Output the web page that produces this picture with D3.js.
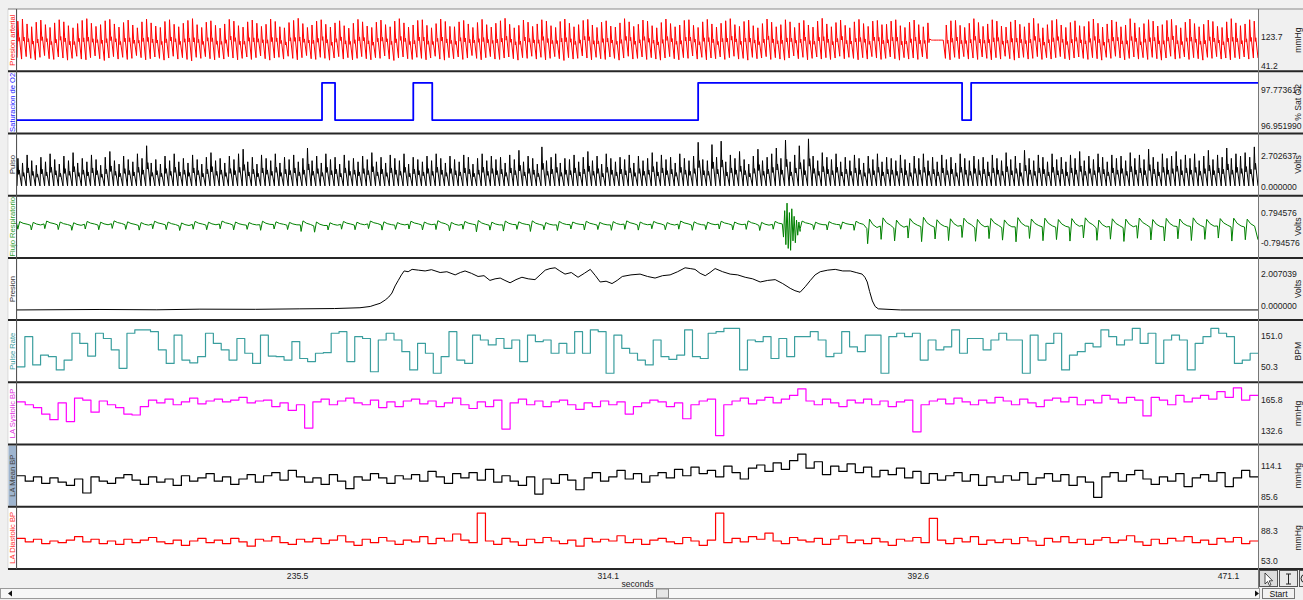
<!DOCTYPE html>
<html>
<head>
<meta charset="utf-8">
<script src="https://cdn.jsdelivr.net/npm/d3@7"></script>
<style>
  html, body { margin: 0; padding: 0; background: #f0f0f0; }
  svg { display: block; font-family: "Liberation Sans", Arial, sans-serif; }
</style>
</head>
<body>
<div id="chart"></div>
<script>
// ---- time axis ----
const timeStart = 164.6, timeEnd = 478.7;
const timeTicks = [235.5, 314.1, 392.6, 471.1];

// ---- channels ----
const channelNames = ["Presion arterial", "Saturacion de O2", "Pulso", "Flujo Respiratorio", "Presion", "Pulse Rate", "LA Systolic BP", "LA Mean BP", "LA Diastolic BP"];
const channelUnits = ["mmHg", "% Sat O2", "Volts", "Volts", "Volts", "BPM", "mmHg", "mmHg", "mmHg"];
const scaleHigh = [123.7, 97.773617, 2.702637, 0.794576, 2.007039, 151.0, 165.8, 114.1, 88.3];
const scaleLow = [41.2, 96.951990, 0.000000, -0.794576, 0.000000, 50.3, 132.6, 85.6, 53.0];
const scaleDecimals = [1, 6, 6, 6, 6, 1, 1, 1, 1];

// arterial pressure, one value per beat (mmHg)
const apSystolic = [
  168,174,160,152,165,171,158,150,163,172,166,155,149,161,170,
  175,162,153,158,169,173,160,151,164,171,157,149,166,174,163,
  154,150,167,172,159,152,162,170,175,158,150,165,169,156,148,
  160,173,168,155,151,166,171,162,153,159,174,167,152,149,164,
  170,176,161,150,157,168,172,159,151,163,169,155,148,162,173,
  166,154,150,165,171,158,152,168,175,163,151,157,170,172,156,
  149,161,174,167,153,152,166,170,160,150,164,173,158,151,162,
  169,176,159,149,156,171,165,153,160,172,168,155,150,167,174,
  162,152,158,170,173,157,150,165,169,154,151,163,175,166,153,
  159,171,168,155,149,164,174,161,152,157,170,172,156,150,166,
  173,160,151,162,169,175,158,153,167,171,155,149,161,174,165,
  152,158,172,166,150,163,170,157,151,168,176,160,152,164,171,
  156,149,166,173,161,153,168,170,158,159,168,172,155,150,165,
  171,158,152,163,114,114,114,157,169,170,156,150,162,175,164,
  153,160,172,168,154,151,166,171,159,152,163,176,161,149,158,
  170,173,157,150,164,169,155,153,167,174,162,151,160,171,166,
  152,157,175,163,150,161,172,168,154,158,170,173,156,149,165,
  174,161,152,159,171,167,153,150,166,175,163,155,160,172,168
];
const apDiastolic = [
  64,60,67,62,58,65,70,61,59,66,63,57,62,68,60,
  58,64,69,61,56,63,67,60,65,59,62,70,64,58,61,
  66,62,57,63,68,60,64,59,55,65,62,67,61,58,64,
  60,67,63,58,62,66,59,64,69,61,57,63,65,60,68,
  62,58,64,70,61,59,65,62,57,63,67,60,64,58,62,
  67,61,58,64,62,69,60,56,63,66,61,59,65,62,58,
  63,68,60,57,64,61,66,59,63,70,62,58,64,67,60,
  59,63,66,61,57,64,62,68,60,65,58,62,67,61,56,
  64,60,62,69,63,58,65,61,59,66,62,57,63,68,60,
  62,66,59,64,60,57,63,67,61,58,64,62,69,60,65,
  58,63,61,66,59,64,68,60,62,57,65,61,63,67,59,
  64,60,57,63,69,61,65,58,62,66,60,64,59,63,68,
  61,65,62,58,64,60,67,63,59,62,66,61,57,64,60,
  63,59,66,61,114,114,114,62,58,65,61,67,60,63,59,
  66,62,58,64,60,68,61,57,63,65,60,62,67,59,64,
  60,64,67,61,58,63,66,62,59,64,61,57,65,62,68,
  63,58,62,66,60,64,59,65,61,57,63,68,60,62,66,
  59,64,61,57,65,62,67,60,63,58,64,61,66,60,63
];

// SpO2 level changes [seconds, %]
const satSteps = [[164.6, 97.08], [241.8, 97.92], [245.1, 97.08], [264.9, 97.92], [269.7, 97.08], [337.0, 97.92], [403.8, 97.08], [406.1, 97.92]];

// pulse pleth, one peak per beat (V)
const pulsePeaks = [
  2.5,2.1,2.8,2.3,1.9,2.6,2.2,2.9,2.4,2.0,2.7,2.3,3.0,2.1,2.5,
  2.2,2.8,2.4,1.9,2.6,3.1,2.3,2.0,2.7,2.4,2.2,2.9,2.5,3.6,2.1,
  2.4,2.0,2.7,2.3,2.9,2.2,2.5,2.1,2.8,2.4,2.0,2.6,3.0,2.3,2.5,
  2.1,2.7,2.4,2.9,3.3,2.2,2.6,2.0,2.8,2.5,2.3,2.9,2.1,2.6,2.4,
  2.8,2.2,2.5,3.4,2.3,2.7,2.1,2.9,2.4,2.6,2.0,2.8,2.3,2.5,2.2,
  2.7,2.4,3.0,2.2,2.6,2.1,2.8,2.5,2.3,2.9,2.0,2.6,2.4,2.2,2.7,
  2.3,2.9,2.5,2.1,2.7,2.4,2.2,2.8,2.6,2.0,2.5,2.9,2.3,2.7,2.4,
  2.6,2.1,2.8,2.4,3.2,2.2,2.7,2.5,2.0,3.5,2.3,2.6,2.9,2.1,2.5,
  2.4,2.8,2.2,2.6,3.1,2.3,2.7,2.0,2.9,2.5,2.2,2.6,2.4,2.8,2.1,
  2.7,2.3,2.5,3.0,2.2,2.8,2.4,2.6,2.1,2.9,2.5,2.3,2.7,3.9,2.4,
  2.3,3.7,2.6,4.0,2.2,2.8,2.5,3.1,2.4,2.0,2.7,3.3,2.3,2.6,2.9,
  3.4,2.5,4.1,2.2,2.8,3.6,2.4,4.2,2.7,2.3,3.0,2.6,2.4,2.9,2.2,
  2.6,2.3,2.8,2.5,2.1,2.7,2.4,2.9,2.2,2.6,2.5,2.3,2.8,2.4,2.1,
  2.7,2.5,2.9,2.3,2.6,2.2,2.8,2.4,2.6,2.1,2.9,2.5,2.3,2.7,2.4,
  2.6,2.2,2.8,2.5,2.3,3.0,2.4,2.7,2.1,3.2,2.5,2.3,2.8,2.6,2.2,
  2.9,2.4,2.6,2.2,2.8,2.5,3.1,2.3,2.7,2.4,2.9,2.6,2.2,2.8,2.5,
  2.7,2.3,3.0,2.5,2.8,2.4,3.3,2.6,2.2,2.9,2.5,2.7,3.1,2.4,2.8,
  2.5,2.9,2.3,2.7,3.2,2.4,2.8,2.6,3.4,2.5,2.9,2.7,3.0,2.6,3.5
];
const pulseFloor = 0.1;

// respiratory flow, one max/min per breath (V)
const respMax = [
  0.32,0.28,0.35,0.30,0.26,0.33,0.29,0.36,0.31,0.27,0.34,0.30,0.25,0.33,0.29,
  0.35,0.30,0.27,0.34,0.31,0.28,0.36,0.30,0.26,0.33,0.29,0.35,0.31,0.27,0.34,
  0.30,0.37,0.28,0.33,0.38,0.29,0.35,0.31,0.36,0.27,0.33,0.30,0.34,0.28,0.32,
  0.36,0.30,0.33,0.27,0.35,0.31,0.29,0.34,0.30,0.36,0.28,0.33,0.31,0.35,0.29,
  0.32,0.30,0.34,0.45,0.52,0.40,0.48,0.55,0.42,0.47,0.50,0.44,0.49,0.41,0.53,
  0.46,0.50,0.43,0.48,0.52,0.40,0.47,0.45,0.51,0.43,0.49,0.46,0.52,0.44,0.48,0.50,0.45
];
const respMin = [
  -0.08,-0.12,-0.05,-0.10,-0.14,-0.07,-0.11,-0.04,-0.09,-0.13,-0.06,-0.10,-0.15,-0.08,-0.11,
  -0.06,-0.12,-0.09,-0.14,-0.07,-0.10,-0.20,-0.24,-0.12,-0.08,-0.11,-0.05,-0.13,-0.09,-0.07,
  -0.12,-0.10,-0.16,-0.08,-0.22,-0.13,-0.18,-0.09,-0.20,-0.11,-0.15,-0.07,-0.12,-0.10,-0.14,
  -0.09,-0.13,-0.06,-0.11,-0.08,-0.14,-0.10,-0.07,-0.12,-0.09,-0.15,-0.08,-0.11,-0.06,-0.10,
  -0.12,-0.08,-0.14,-0.85,-0.62,-0.70,-0.55,-0.74,-0.60,-0.68,-0.52,-0.72,-0.58,-0.66,-0.75,
  -0.57,-0.69,-0.63,-0.71,-0.54,-0.67,-0.61,-0.73,-0.56,-0.65,-0.70,-0.59,-0.68,-0.62,-0.55,-0.71,-0.64
];
// artefact burst [seconds, V]
const respBurst = [[358.3,0.2],[358.6,-0.5],[358.9,0.9],[359.2,-0.9],[359.5,1.3],[359.8,-1.1],[360.1,0.8],[360.4,-1.2],[360.7,1.0],[361.0,-0.7],[361.3,0.6],[361.6,-0.8],[361.9,0.4],[362.2,-0.4],[362.5,0.3],[362.8,-0.2]];

// cuff pressure [seconds, V]
const presionTrace = [
  [164.6,-0.27],[185.6,-0.24],[200,-0.26],[210.9,-0.22],[225,-0.23],[236.2,-0.2],[245,-0.18],[251.4,-0.13],
  [254,-0.05],[255.2,0.05],[256.5,0.15],[257.8,0.36],[258.7,0.55],[259.5,0.8],[260.3,1.25],[261.1,1.6],
  [261.9,1.95],[262.6,2.2],[263.6,2.15],[264.6,2.3],[266.2,2.25],[267.9,2.2],[269.5,2.28],[271.7,2.1],
  [273.4,2.15],[275.5,1.95],[276.8,2.1],[278.0,2.2],[279.6,2.05],[281.3,1.85],[282.8,1.9],[284.3,1.6],
  [285.6,1.7],[286.9,1.75],[288.1,1.6],[289.4,1.45],[290.9,1.65],[292.4,1.8],[294.0,1.7],[295.7,1.65],
  [297.0,1.95],[298.3,2.25],[299.5,2.35],[300.8,2.4],[302.0,2.2],[303.3,2.0],[304.9,2.1],[306.6,1.8],
  [308.2,2.05],[309.7,2.3],[311.0,1.9],[312.2,1.5],[313.7,1.55],[315.2,1.4],[316.5,1.6],[317.8,1.85],
  [320.0,1.95],[322.3,2.0],[324.2,1.85],[326.1,1.75],[328.0,1.9],[329.9,1.95],[331.8,2.15],[333.7,2.4],
  [335.0,2.35],[336.2,2.3],[337.5,2.05],[338.8,1.9],[340.0,2.1],[341.3,2.35],[343.2,2.15],[345.1,2.0],
  [347.0,1.95],[348.9,1.8],[350.8,1.7],[352.7,1.5],[354.6,1.6],[356.5,1.65],[358.4,1.4],[360.3,1.1],
  [361.5,0.95],[362.8,0.85],[364.1,1.2],[365.4,1.6],[366.6,1.95],[367.9,2.15],[369.8,2.25],[371.7,2.3],
  [373.6,2.2],[375.5,2.2],[377.0,2.1],[378.5,2.0],[379.2,1.8],[379.8,1.5],[380.4,0.9],[381.1,0.3],
  [381.8,-0.05],[382.6,-0.2],[388.2,-0.27],[478.7,-0.27]
];

// beat-by-beat derived channels
const pulseRate = [
  50,148,56,88,83,40,72,159,126,85,159,142,105,45,159,170,170,164,105,61,
  153,72,63,83,159,126,105,72,142,94,61,153,85,83,72,132,77,67,94,96,
  159,164,67,148,142,34,137,159,137,99,40,126,94,29,83,164,72,61,153,137,
  121,142,110,137,67,153,132,137,94,126,94,164,94,170,164,29,153,110,94,
  72,56,137,83,74,88,170,83,77,159,164,175,175,40,137,132,148,77,142,83,
  148,148,164,137,83,94,164,115,99,153,153,29,148,159,148,159,72,137,105,115,
  170,94,142,142,105,137,159,137,137,29,153,72,126,159,40,88,99,126,115,170,
  148,121,137,175,126,159,61,137,153,137,40,126,148,175,159,148,61,72,94
];
const laSystolic = [
  163,160,157,150,144,162,142,167,165,152,164,160,157,150,149,158,
  165,162,166,160,163,167,161,164,166,163,165,168,162,164,
  165,158,162,154,160,135,163,166,160,164,167,162,160,165,157,163,158,164,
  166,161,164,158,162,167,160,156,163,158,165,134,162,166,160,164,158,163,
  165,160,155,162,158,164,160,163,150,158,162,165,163,158,162,145,160,164,
  166,127,160,164,167,161,165,168,162,166,170,177,164,160,166,162,158,165,
  162,166,160,164,158,163,165,131,160,164,166,161,167,163,160,165,162,168,
  164,160,166,162,158,165,167,163,168,160,165,162,170,166,162,168,165,148,
  168,165,160,170,163,167,170,166,174,168,178,165,170
];
const laMean = [
  105,100,104,98,103,99,96,102,89,104,100,98,103,106,101,97,
  104,99,102,96,105,100,103,107,100,104,97,102,106,99,
  105,108,101,110,104,99,103,97,106,100,93,104,101,107,103,98,105,102,
  106,100,109,104,98,107,103,108,101,111,99,105,100,96,104,88,102,98,
  106,101,92,103,108,100,104,110,102,107,99,105,108,103,111,105,113,107,
  110,104,114,108,102,112,115,109,117,111,119,125,112,118,106,114,109,116,
  108,113,104,110,106,112,103,109,98,107,101,105,108,100,106,96,104,99,
  105,101,108,97,103,107,100,106,96,104,99,85,104,108,100,106,110,102,
  97,104,100,107,95,103,106,100,108,95,103,110,104
];
const laDiastolic = [
  79,75,78,73,76,74,77,81,75,78,73,76,72,78,74,77,
  80,75,73,77,71,76,79,74,77,73,79,75,70,78,
  76,81,74,72,78,75,79,73,77,82,75,71,78,74,80,76,72,77,
  75,81,73,79,76,84,77,74,108,76,72,79,75,71,78,74,80,76,
  73,77,70,79,75,78,76,82,74,78,72,77,79,75,73,80,76,71,
  77,108,74,79,75,81,78,85,76,73,80,77,75,79,72,78,82,74,
  77,73,79,75,71,78,76,80,74,102,77,73,79,75,81,72,77,74,
  78,73,80,76,71,79,75,81,74,78,72,77,80,74,77,82,75,71,
  78,73,79,76,81,74,77,72,79,75,80,73,76
];

// ---- layout ----
const W = 1303, H = 600;
const plotLeft = 17, plotRight = 1258, plotTop = 9, plotBottom = 569;
const panelH = (plotBottom - plotTop) / channelNames.length;

const panelLook = [
  { color: "#ff0000", label: "#ff2020", hiOff: 27.7, loOff: 56.7, width: 1, curve: d3.curveLinear },
  { color: "#0000ff", label: "#2020ff", hiOff: 18.1, loOff: 54.5, width: 1.8, curve: d3.curveStepAfter },
  { color: "#000000", label: "#333333", hiOff: 22.6, loOff: 53.6, width: 1, curve: d3.curveLinear },
  { color: "#008000", label: "#33a033", hiOff: 17.0, loOff: 47.0, width: 1, curve: d3.curveLinear },
  { color: "#000000", label: "#333333", hiOff: 16.1, loOff: 47.8, width: 1, curve: d3.curveLinear },
  { color: "#3a9e9e", label: "#3a9e9e", hiOff: 15.6, loOff: 46.6, width: 1.2, curve: d3.curveStepAfter },
  { color: "#ff00ff", label: "#e030e0", hiOff: 17.0, loOff: 48.0, width: 1.2, curve: d3.curveStepAfter },
  { color: "#000000", label: "#444444", hiOff: 21.4, loOff: 52.1, width: 1.2, curve: d3.curveStepAfter },
  { color: "#ff0000", label: "#ff3030", hiOff: 23.5, loOff: 54.2, width: 1.2, curve: d3.curveStepAfter }
];

// beat and breath templates: [phase, weight between low and high]
const apBeatShape = [[0, 0], [0.18, 1], [0.42, 0.45], [0.52, 0.55]];
const pulseBeatShape = [[0, 0], [0.2, 1], [0.36, 0.42], [0.46, 0.58]];
const breathShape = [[0, 0.62], [0.06, 0], [0.2, 1], [0.45, 0.78], [0.75, 0.66]];

function cyclePoints(highs, lows, shape) {
  const n = highs.length, dur = (timeEnd - timeStart) / n, pts = [];
  for (let i = 0; i < n; i++) {
    shape.forEach(([p, w]) => pts.push([timeStart + (i + p) * dur, lows[i] + w * (highs[i] - lows[i])]));
  }
  pts.push([timeEnd, lows[n - 1]]);
  return pts;
}
function stepPoints(vals) {
  const dur = (timeEnd - timeStart) / vals.length;
  const pts = vals.map((v, i) => [timeStart + i * dur, v]);
  pts.push([timeEnd, vals[vals.length - 1]]);
  return pts;
}

const respPts = cyclePoints(respMax, respMin, breathShape)
  .filter(d => d[0] < respBurst[0][0] || d[0] > respBurst[respBurst.length - 1][0])
  .concat(respBurst)
  .sort((a, b) => a[0] - b[0]);

const series = [
  cyclePoints(apSystolic, apDiastolic, apBeatShape),
  satSteps.concat([[timeEnd, satSteps[satSteps.length - 1][1]]]),
  cyclePoints(pulsePeaks, pulsePeaks.map(() => pulseFloor), pulseBeatShape),
  respPts,
  presionTrace,
  stepPoints(pulseRate),
  stepPoints(laSystolic),
  stepPoints(laMean),
  stepPoints(laDiastolic)
];

const svg = d3.select("#chart").append("svg")
  .attr("width", W)
  .attr("height", H);

svg.append("rect").attr("width", W).attr("height", H).attr("fill", "#f0f0f0");

const x = d3.scaleLinear().domain([timeStart, timeEnd]).range([plotLeft, plotRight]);

// plot background + label column
svg.append("rect")
  .attr("x", plotLeft).attr("y", plotTop)
  .attr("width", plotRight - plotLeft).attr("height", plotBottom - plotTop)
  .attr("fill", "#ffffff");
svg.append("rect")
  .attr("x", 8).attr("y", plotTop)
  .attr("width", plotLeft - 8).attr("height", plotBottom - plotTop)
  .attr("fill", "#ffffff").attr("stroke", "#c8c8c8").attr("stroke-width", 0.6);

const defs = svg.append("defs");

channelNames.forEach((name, i) => {
  const top = plotTop + i * panelH;
  const look = panelLook[i];
  const y = d3.scaleLinear()
    .domain([scaleLow[i], scaleHigh[i]])
    .range([top + look.loOff, top + look.hiOff]);

  if (i === 7) {
    svg.append("rect")
      .attr("x", 8.5).attr("y", top + 1)
      .attr("width", plotLeft - 9).attr("height", panelH - 2)
      .attr("fill", "#9fb5cf");
  }

  defs.append("clipPath").attr("id", "clip" + i)
    .append("rect")
    .attr("x", plotLeft).attr("y", top + 1)
    .attr("width", plotRight - plotLeft).attr("height", panelH - 2);

  const line = d3.line()
    .x(d => x(d[0]))
    .y(d => y(d[1]))
    .curve(look.curve);

  svg.append("path")
    .datum(series[i])
    .attr("clip-path", `url(#clip${i})`)
    .attr("fill", "none")
    .attr("stroke", look.color)
    .attr("stroke-width", look.width)
    .attr("stroke-linejoin", "round")
    .attr("d", line);

  // scale readout on the right
  const axis = svg.append("g")
    .attr("transform", `translate(${plotRight},0)`)
    .call(d3.axisRight(y)
      .tickValues([scaleHigh[i], scaleLow[i]])
      .tickSize(0)
      .tickPadding(3)
      .tickFormat(v => v.toFixed(scaleDecimals[i])));
  axis.select(".domain").remove();
  axis.selectAll("text")
    .attr("font-size", "8.6px")
    .attr("fill", "#222")
    .style("font-family", "Liberation Sans, Arial, sans-serif");

  // unit
  svg.append("text")
    .attr("transform", `translate(1298,${top + panelH / 2}) rotate(-90)`)
    .attr("text-anchor", "middle")
    .attr("dominant-baseline", "central")
    .attr("font-size", "8.6px")
    .attr("fill", "#222")
    .text(channelUnits[i]);

  // channel name
  svg.append("text")
    .attr("transform", `translate(12.5,${top + panelH / 2}) rotate(-90)`)
    .attr("text-anchor", "middle")
    .attr("dominant-baseline", "central")
    .attr("font-size", "7.6px")
    .attr("fill", look.label)
    .text(name);
});

// panel dividers
d3.range(channelNames.length + 1).forEach(k => {
  const yy = plotTop + k * panelH;
  svg.append("line")
    .attr("x1", 8).attr("x2", W)
    .attr("y1", yy).attr("y2", yy)
    .attr("stroke", k === 0 ? "#8a8a8a" : "#262626")
    .attr("stroke-width", k === 0 ? 1 : 2);
});
svg.append("line")
  .attr("x1", plotLeft - 0.5).attr("x2", plotLeft - 0.5)
  .attr("y1", plotTop).attr("y2", plotBottom)
  .attr("stroke", "#555").attr("stroke-width", 1);
svg.append("line")
  .attr("x1", plotRight + 0.5).attr("x2", plotRight + 0.5)
  .attr("y1", plotTop).attr("y2", 588)
  .attr("stroke", "#777").attr("stroke-width", 1);

// time axis
const xAxis = svg.append("g")
  .attr("transform", `translate(0,${plotBottom + 1})`)
  .call(d3.axisBottom(x)
    .tickValues(timeTicks)
    .tickSize(0)
    .tickPadding(3)
    .tickFormat(v => v.toFixed(1)));
xAxis.select(".domain").remove();
xAxis.selectAll("text")
  .attr("font-size", "8.6px")
  .attr("fill", "#222")
  .style("font-family", "Liberation Sans, Arial, sans-serif");

svg.append("text")
  .attr("x", (plotLeft + plotRight) / 2)
  .attr("y", 586.5)
  .attr("text-anchor", "middle")
  .attr("font-size", "8.6px")
  .attr("fill", "#222")
  .text("seconds");

// scroll bar
svg.append("rect")
  .attr("x", 0.5).attr("y", 588.5)
  .attr("width", 1259).attr("height", 10)
  .attr("fill", "#f7f7f7").attr("stroke", "#9a9a9a");
svg.append("rect")
  .attr("x", 656.5).attr("y", 589)
  .attr("width", 12).attr("height", 9)
  .attr("fill", "#e6e6e6").attr("stroke", "#8a8a8a");
svg.append("path").attr("d", "M8,593.5 L12,590.5 L12,596.5 Z").attr("fill", "#111");
svg.append("path").attr("d", "M1259,593.5 L1255,590.5 L1255,596.5 Z").attr("fill", "#111");

// start button
svg.append("rect")
  .attr("x", 1262.5).attr("y", 588.5)
  .attr("width", 32).attr("height", 10)
  .attr("fill", "#f2f2f2").attr("stroke", "#777");
svg.append("text")
  .attr("x", 1278.5).attr("y", 597)
  .attr("text-anchor", "middle")
  .attr("font-size", "8.6px")
  .attr("fill", "#111")
  .text("Start");

// tool buttons
svg.append("rect").attr("x", 1259.5).attr("y", 570.5).attr("width", 18).attr("height", 16)
  .attr("fill", "#dcdcdc").attr("stroke", "#555");
svg.append("path")
  .attr("d", "M1265,573 L1265,584 L1267.6,581.5 L1269.4,585.5 L1271,584.8 L1269.2,580.8 L1272.6,580.8 Z")
  .attr("fill", "#fff").attr("stroke", "#222").attr("stroke-width", 0.8);
svg.append("rect").attr("x", 1279.5).attr("y", 570.5).attr("width", 18).attr("height", 16)
  .attr("fill", "#e8e8e8").attr("stroke", "#555");
svg.append("path")
  .attr("d", "M1286,574 h5 M1288.5,574 v10 M1286,584 h5")
  .attr("fill", "none").attr("stroke", "#222").attr("stroke-width", 1);
svg.append("rect").attr("x", 1299.5).attr("y", 570.5).attr("width", 10).attr("height", 16)
  .attr("fill", "#e8e8e8").attr("stroke", "#555");
svg.append("circle").attr("cx", 1305).attr("cy", 578.5).attr("r", 4)
  .attr("fill", "none").attr("stroke", "#222");
</script>
</body>
</html>
